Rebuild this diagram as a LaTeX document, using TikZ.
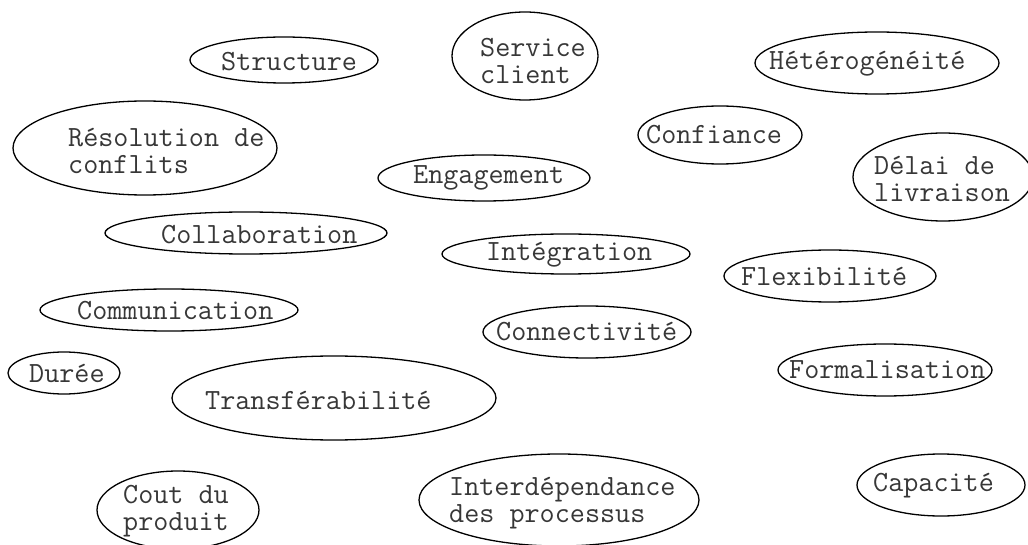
\documentclass[tikz,border=0pt]{standalone}
\usepackage{fontspec}
\usepackage{tikz}
\usetikzlibrary{shapes.geometric}
\definecolor{inkgrey}{RGB}{55,55,55}
\tikzset{
  bubbleshape/.style={ellipse,draw=black,line width=1.3pt,inner sep=0pt},
  bubbletext/.style={anchor=west,inner sep=0pt,align=left,text=inkgrey,
    font=\ttfamily\fontsize{29.3}{27}\selectfont},
}
% #1 name, #2 cx, #3 cy, #4 rx, #5 ry, #6 text x, #7 text y, #8 text
\newcommand{\bubble}[8]{%
  \node[bubbleshape,minimum width={2*#4},minimum height={2*#5}] (#1) at (#2,#3) {};
  \node[bubbletext] (#1-t) at (#6,#7) {#8};}

\begin{document}
\begin{tikzpicture}[x=1pt,y=-1pt]
        \clip (0,0) rectangle (1028,545);
        \fill[white] (0,0) rectangle (1028,545);
        \bubble{struct}{284}{60}{94}{23}{221}{62}{Structure}
        \bubble{serv}{525}{56}{73}{44}{480}{61}{Service\\client}
        \bubble{resol}{145}{148}{132}{47}{68}{151}{Résolution de\\conflits}
        \bubble{engag}{484}{178}{106}{23}{413}{178}{Engagement}
        \bubble{collab}{246}{233}{141}{21}{161}{235}{Collaboration}
        \bubble{integ}{566}{254}{124}{20}{486}{255}{Intégration}
        \bubble{hetero}{877}{63}{122}{31}{769}{64}{Hétérogénéité}
        \bubble{conf}{720}{135}{82}{29}{646}{135}{Confiance}
        \bubble{delai}{943}{177}{90}{44}{874}{179}{Délai de\\livraison}
        \bubble{flex}{830}{276}{106}{26}{741}{276}{Flexibilité}
        \bubble{comm}{169}{310}{129}{21}{77}{311}{Communication}
        \bubble{duree}{64}{373}{56}{21}{29}{373}{Durée}
        \bubble{transf}{334}{398}{162}{42}{205}{400}{Transférabilité}
        \bubble{cout}{178}{510}{81}{39}{123}{511}{Cout du\\produit}
        \bubble{interd}{559}{500}{140}{46}{449}{503}{Interdépendance\\des processus}
        \bubble{connect}{587}{332}{104}{26}{496}{332}{Connectivité}
        \bubble{formal}{885}{370}{107}{26}{789}{370}{Formalisation}
        \bubble{capac}{941}{485}{84}{31}{873}{486}{Capacité}
      \end{tikzpicture}
\end{document}
